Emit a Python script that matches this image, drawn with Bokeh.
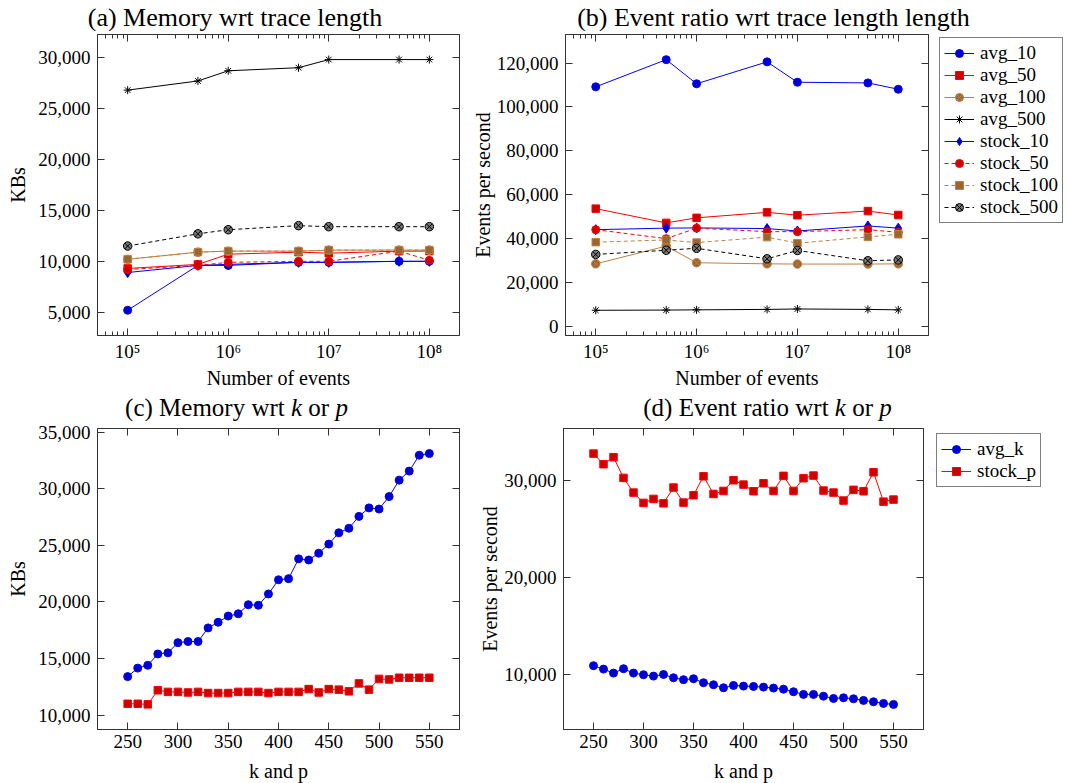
from bokeh.plotting import figure
from bokeh.models import (FixedTicker, NumeralTickFormatter, CustomJSTickFormatter,
                          Legend, LegendItem, LinearAxis, LogAxis, Range1d)
from bokeh.core.properties import value
from bokeh.layouts import column, row
from bokeh.embed import file_html
from bokeh.resources import INLINE

# ---------------- data ----------------
events = [1e5, 5e5, 1e6, 5e6, 1e7, 5e7, 1e8]

mem_avg_10 = [5200, 9600, 9600, 9900, 9900, 10000, 10000]
mem_avg_50 = [9300, 9700, 10700, 10900, 10800, 11000, 11000]
mem_avg_100 = [10200, 10900, 11000, 11000, 11100, 11100, 11100]
mem_avg_500 = [26800, 27700, 28700, 29000, 29800, 29800, 29800]
mem_stock_10 = [8900, 9600, 9700, 9900, 9900, 10000, 10000]
mem_stock_50 = [9200, 9600, 9900, 10000, 10000, 11000, 10100]
mem_stock_100 = [10200, 10900, 11000, 11000, 11100, 11100, 11100]
mem_stock_500 = [11500, 12700, 13100, 13500, 13400, 13400, 13400]

rate_avg_10 = [109200, 121600, 110600, 120600, 111300, 111000, 108100]
rate_avg_50 = [53600, 47100, 49400, 51900, 50600, 52500, 50700]
rate_avg_100 = [28400, 36500, 28900, 28400, 28300, 28300, 28400]
rate_avg_500 = [7200, 7300, 7400, 7600, 7800, 7600, 7400]
rate_stock_10 = [44000, 44700, 44800, 44500, 43400, 45700, 44700]
rate_stock_50 = [44000, 39900, 44700, 43100, 43100, 44000, 42800]
rate_stock_100 = [38300, 39300, 38100, 40600, 37800, 40700, 41900]
rate_stock_500 = [32700, 34600, 35500, 30700, 34500, 29800, 30200]

k_values = [250, 260, 270, 280, 290, 300, 310, 320, 330, 340, 350, 360, 370, 380,
            390, 400, 410, 420, 430, 440, 450, 460, 470, 480, 490, 500, 510, 520,
            530, 540, 550]
mem_avg_k = [13400, 14150, 14400, 15400, 15500, 16400, 16500, 16500, 17700, 18200,
             18750, 18950, 19750, 19700, 20700, 21950, 22050, 23800, 23700, 24300,
             25100, 26100, 26500, 27550, 28300, 28200, 29300, 30750, 31550, 32950, 33100]
mem_stock_p = [11000, 11000, 10950, 12200, 12050, 12050, 12000, 12050, 11950, 11950,
               11950, 12050, 12050, 12050, 11950, 12050, 12050, 12050, 12300, 12000,
               12300, 12250, 12100, 12800, 12250, 13200, 13150, 13300, 13300, 13300, 13300]
rate_avg_k = [10930, 10580, 10170, 10620, 10170, 10000, 9860, 10030, 9690, 9490,
              9590, 9180, 8970, 8660, 8900, 8830, 8800, 8730, 8630, 8520,
              8250, 7980, 7980, 7800, 7560, 7630, 7530, 7360, 7220, 7050, 6950]
rate_stock_p = [32740, 31650, 32370, 30240, 28730, 27670, 28080, 27630, 29250, 27700,
                28460, 30410, 28590, 28900, 30000, 29550, 28870, 29690, 28900, 30450,
                28900, 30210, 30480, 28940, 28730, 27910, 29010, 28870, 30820, 27800, 28010]

series_names_ab = ["avg_10", "avg_50", "avg_100", "avg_500",
                   "stock_10", "stock_50", "stock_100", "stock_500"]
mem_series = [mem_avg_10, mem_avg_50, mem_avg_100, mem_avg_500,
              mem_stock_10, mem_stock_50, mem_stock_100, mem_stock_500]
rate_series = [rate_avg_10, rate_avg_50, rate_avg_100, rate_avg_500,
               rate_stock_10, rate_stock_50, rate_stock_100, rate_stock_500]
series_names_cd = ["avg_k", "stock_p"]
rate_series_cd = [rate_avg_k, rate_stock_p]

title_a = "(a) Memory wrt trace length"
title_b = "(b) Event ratio wrt trace length length"
title_c = [("(c) Memory wrt", "normal"), ("k", "italic"), ("or", "normal"), ("p", "italic")]
title_d = [("(d) Event ratio wrt", "normal"), ("k", "italic"), ("or", "normal"), ("p", "italic")]
xlabel_top = "Number of events"
xlabel_bottom = "k and p"
ylabel_mem = "KBs"
ylabel_rate = "Events per second"

a_yticks = [5000, 10000, 15000, 20000, 25000, 30000]
b_yticks = [0, 20000, 40000, 60000, 80000, 100000, 120000]
c_yticks = [10000, 15000, 20000, 25000, 30000, 35000]
d_yticks = [10000, 20000, 30000]
cd_xticks = [250, 300, 350, 400, 450, 500, 550]
log_major = [1e5, 1e6, 1e7, 1e8]

# ---------------- style ----------------
FONT = "Liberation Serif"
EDGE = "#333333"
BLUE, BLUE_F = "#0000ff", "#0000cc"
RED, RED_F = "#ff0000", "#cc0000"
BROWN, BROWN_F = "#bf8040", "#996633"
BLACK = "#000000"
DASH = "4 3"

# (line colour, marker fill, marker, size, dash)
STYLE_AB = [
    (BLUE, BLUE_F, "circle", 8, "solid"),
    (RED, RED_F, "square", 7.5, "solid"),
    (BROWN, BROWN_F, "circle_x", 8.5, "solid"),
    (BLACK, None, "asterisk", 8, "solid"),
    (BLUE, BLUE_F, "diamond", 10, "solid"),
    (RED, RED_F, "circle", 8, DASH),
    (BROWN, BROWN_F, "square", 7.5, DASH),
    (BLACK, "#777777", "circle_x", 8.5, DASH),
]
STYLE_CD = [
    (BLUE, BLUE_F, "circle", 8, "solid"),
    (RED, RED_F, "square", 7.5, "solid"),
]

log_minor = [m * 10.0 ** e for e in range(4, 9) for m in range(2, 10)]

sup_js = """
const sup = {"4":"\\u2074","5":"\\u2075","6":"\\u2076","7":"\\u2077","8":"\\u2078","9":"\\u2079"};
const e = Math.round(Math.log10(tick));
return "10" + (sup[String(e)] || "");
"""


def style_axis(ax, minor=False):
    ax.major_tick_in = 7
    ax.major_tick_out = 0
    ax.minor_tick_in = 4 if minor else 0
    ax.minor_tick_out = 0
    ax.major_tick_line_color = EDGE
    ax.minor_tick_line_color = EDGE if minor else None
    ax.axis_line_color = EDGE
    ax.major_label_text_font = FONT
    ax.major_label_text_font_size = "19px"
    ax.major_label_text_color = "black"
    ax.axis_label_text_font = FONT
    ax.axis_label_text_font_size = "20px"
    ax.axis_label_text_font_style = "normal"
    ax.axis_label_text_color = "black"


def make_fig(xlog, xr, yr, fw, fh, left, right, top, bottom):
    p = figure(x_axis_type="log" if xlog else "linear",
               x_range=Range1d(*xr), y_range=Range1d(*yr),
               frame_width=fw, frame_height=fh,
               output_backend="svg", toolbar_location=None,
               min_border_left=left, min_border_right=right,
               min_border_top=top, min_border_bottom=bottom)
    p.grid.visible = False
    p.outline_line_color = EDGE
    p.outline_line_alpha = 1.0
    p.background_fill_color = "white"
    p.border_fill_color = "white"
    return p


def mirror_axis(ax, minor):
    style_axis(ax, minor=minor)
    ax.major_label_text_font_size = "0px"
    ax.major_label_text_color = None
    ax.major_label_standoff = 0


def setup_axes(p, xlog, xticks, yticks, xlabel, ylabel, ylab_standoff, xtick_standoff, xlab_standoff):
    if xlog:
        xt = FixedTicker(ticks=xticks, minor_ticks=log_minor)
        xf = CustomJSTickFormatter(code=sup_js)
    else:
        xt = FixedTicker(ticks=xticks, minor_ticks=[])
        xf = NumeralTickFormatter(format="0")
    yt = FixedTicker(ticks=yticks, minor_ticks=[])
    xa = p.xaxis[0]
    xa.ticker = xt
    xa.formatter = xf
    xa.axis_label = xlabel
    style_axis(xa, minor=xlog)
    xa.major_label_standoff = xtick_standoff
    xa.axis_label_standoff = xlab_standoff
    ya = p.yaxis[0]
    ya.ticker = yt
    ya.formatter = NumeralTickFormatter(format="0,0")
    ya.axis_label = ylabel
    style_axis(ya)
    ya.major_label_standoff = 7
    ya.axis_label_standoff = ylab_standoff
    top = (LogAxis if xlog else LinearAxis)(ticker=xt, formatter=NumeralTickFormatter(format="0"))
    mirror_axis(top, xlog)
    p.add_layout(top, "above")
    rt = LinearAxis(ticker=yt, formatter=NumeralTickFormatter(format="0"))
    mirror_axis(rt, False)
    p.add_layout(rt, "right")


def draw_series(p, x, y, style):
    color, fill, marker, size, dash = style
    p.line(x, y, line_color=color, line_width=1, line_dash=dash)
    p.scatter(x, y, marker=marker, size=size, fill_color=fill,
              line_color=color, line_width=1)


def legend_fig(width, height, names, xs, series_list, styles, margin):
    # a panel that only holds the legend; its proxy renderers sit outside its 0..1 view
    f = figure(width=width, height=height, x_range=Range1d(0, 1), y_range=Range1d(0, 1),
               x_axis_location=None, y_axis_location=None, min_border=0,
               output_backend="svg", toolbar_location=None)
    f.grid.visible = False
    f.outline_line_color = None
    f.background_fill_color = "white"
    f.border_fill_color = "white"
    items = []
    for name, ys, (color, fill, marker, size, dash) in zip(names, series_list, styles):
        ln = f.line(x=xs[:1], y=ys[:1], line_color=color, line_width=1, line_dash=dash)
        sc = f.scatter(x=xs[:1], y=ys[:1], marker=marker, size=size, fill_color=fill,
                       line_color=color, line_width=1)
        items.append(LegendItem(label=name, renderers=[ln, sc]))
    lg = Legend(items=items, location="top_left", glyph_width=30, glyph_height=20,
                label_height=20, spacing=0, padding=4, label_standoff=6, margin=margin,
                label_text_font=FONT, label_text_font_size="19px", label_text_color="black",
                border_line_color="black", border_line_width=1,
                background_fill_color="white", background_fill_alpha=1.0)
    f.add_layout(lg)
    return f


W = {"(": .333, ")": .333, " ": .25, "a": .444, "b": .5, "c": .444, "d": .5, "e": .444,
     "E": .611, "M": .889, "m": .778, "n": .5, "o": .5, "r": .333, "y": .5, "w": .722,
     "t": .278, "i": .278, "k": .444, "p": .5, "v": .5}


def make_strip(width, height):
    s = figure(width=width, height=height, x_range=Range1d(0, width),
               y_range=Range1d(height, 0), x_axis_location=None, y_axis_location=None,
               min_border=0, output_backend="svg", toolbar_location=None)
    s.grid.visible = False
    s.outline_line_color = None
    s.background_fill_color = "white"
    s.border_fill_color = "white"
    return s


def strip_text(s, x, y, text, size, style="normal", align="center"):
    s.text(x=[x], y=[y], text=[text], text_align=align, text_baseline="middle",
           text_font=value(FONT), text_font_size=value(f"{size}px"),
           text_font_style=style, text_color="black")


def strip_pieces(s, pieces, cx, y, size):
    sp = W[" "] * size
    widths = [sum(W.get(ch, .5) for ch in t) * size for t, _ in pieces]
    total = sum(widths) + sp * (len(pieces) - 1)
    x = cx - total / 2
    for (t, st), w in zip(pieces, widths):
        strip_text(s, x, y, t, size, style=st, align="left")
        x += w + sp


LOGX = (10 ** 4.7, 10 ** 8.3)
ROW1_H = 3 + 301 + 58
ROW2_H = 7 + 301 + 52

# ---------------- (a) ----------------
pa = make_fig(True, LOGX, (2720, 32260), 362, 301, 97, 9, 3, 58)
setup_axes(pa, True, log_major, a_yticks, xlabel_top, ylabel_mem, 6, 5, 2)
for ys, st in zip(mem_series, STYLE_AB):
    draw_series(pa, events, ys, st)

# ---------------- (b) ----------------
pb = make_fig(True, LOGX, (-4310, 133090), 363, 301, 93, 8, 3, 58)
setup_axes(pb, True, log_major, b_yticks, xlabel_top, ylabel_rate, 0, 5, 2)
for ys, st in zip(rate_series, STYLE_AB):
    draw_series(pb, events, ys, st)
lgb = legend_fig(130, ROW1_H, series_names_ab, events, rate_series, STYLE_AB, 3)

# ---------------- (c) ----------------
pc = make_fig(False, (220, 580), (8730, 35310), 362, 301, 97, 14, 7, 52)
setup_axes(pc, False, cd_xticks, c_yticks, xlabel_bottom, ylabel_mem, 6, 5, 9)
draw_series(pc, k_values, mem_avg_k, STYLE_CD[0])
draw_series(pc, k_values, mem_stock_p, STYLE_CD[1])

# ---------------- (d) ----------------
pd_ = make_fig(False, (220, 580), (4370, 35320), 360, 301, 90, 8, 7, 52)
setup_axes(pd_, False, cd_xticks, d_yticks, xlabel_bottom, ylabel_rate, 0, 5, 9)
draw_series(pd_, k_values, rate_avg_k, STYLE_CD[0])
draw_series(pd_, k_values, rate_stock_p, STYLE_CD[1])
lgd = legend_fig(130, ROW2_H, series_names_cd, k_values, rate_series_cd, STYLE_CD, 5)

# ---------------- title strips ----------------
s1 = make_strip(1060, 31)
strip_text(s1, 234.5, 16.5, title_a, 26)
strip_text(s1, 773, 16.5, title_b, 26)

s2 = make_strip(1060, 28)
strip_pieces(s2, title_c, 236, 14, 25)
strip_pieces(s2, title_d, 767, 14, 25)

layout = column(s1, row(pa, pb, lgb), s2, row(pc, pd_, lgd))

with open("out.html", "w", encoding="utf-8") as f:
    f.write(file_html(layout, INLINE))
